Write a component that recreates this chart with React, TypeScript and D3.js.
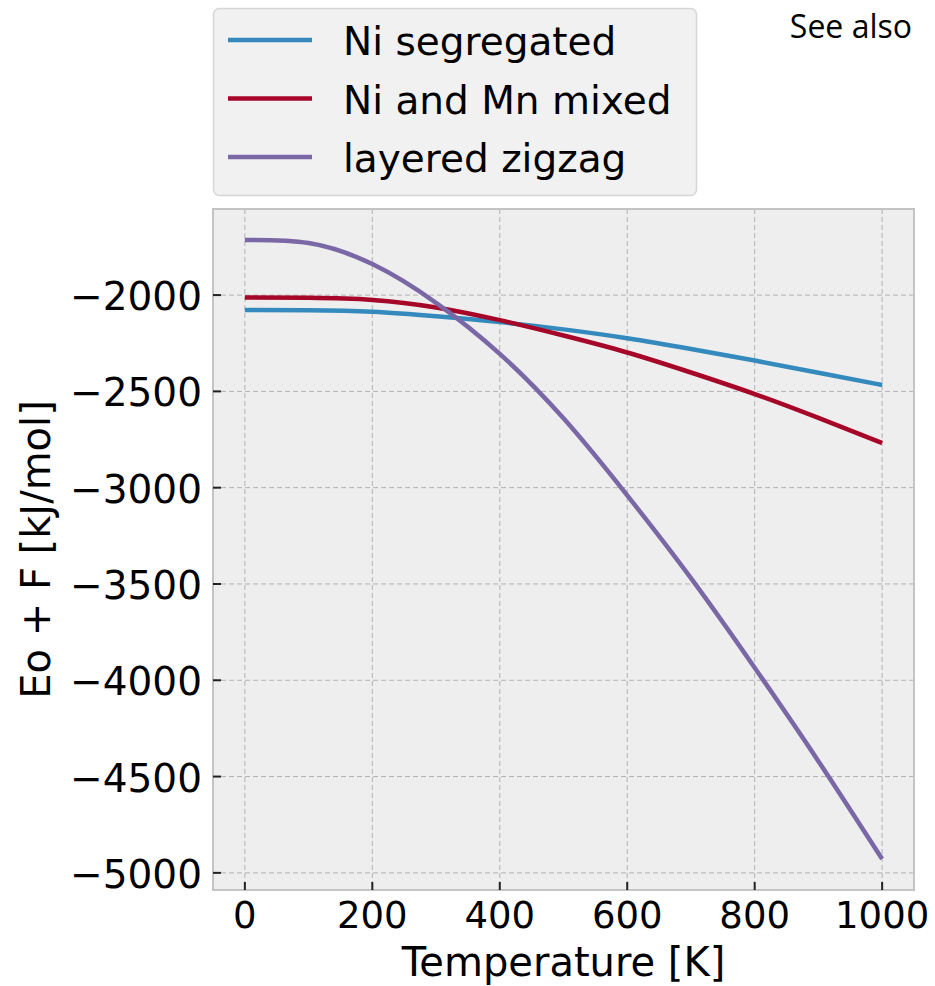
import React from "react";
import * as d3 from "d3";

const temperatures = [0, 100, 200, 300, 400, 500, 600, 700, 800, 900, 1000];
const niSegregated = [-2077, -2079, -2087, -2110, -2140, -2178, -2224, -2280, -2340, -2403, -2467];
const niMnMixed = [-2012, -2014, -2025, -2064, -2130, -2210, -2298, -2402, -2514, -2638, -2768];
const layeredZigzag = [-1714, -1730, -1839, -2040, -2305, -2640, -3040, -3470, -3935, -4420, -4928];

const seriesNames = ["Ni segregated", "Ni and Mn mixed", "layered zigzag"];
const seriesColors = ["#348ABD", "#A60628", "#7A68A6"];
const xTicks = [0, 200, 400, 600, 800, 1000];
const yTicks = [-2000, -2500, -3000, -3500, -4000, -4500, -5000];

const W = 935;
const H = 986;
const L = 213, R = 914, T = 209, B = 890;
const FONT = "DejaVu Sans, sans-serif";

export default function App() {
  const x = d3.scaleLinear().domain([-50, 1050]).range([L, R]);
  const y = d3.scaleLinear().domain([-1553, -5089]).range([T, B]);
  const series = [niSegregated, niMnMixed, layeredZigzag];
  const line = d3
    .line<number>()
    .x((_, i) => x(temperatures[i]))
    .y((d) => y(d))
    .curve(d3.curveNatural);

  return (
    <svg width={W} height={H} style={{ position: "absolute", left: 0, top: 0, background: "#fff" }}>
      <defs>
        <clipPath id="clip">
          <rect x={L} y={T} width={R - L} height={B - T} />
        </clipPath>
      </defs>
      {/* plot background */}
      <rect x={L} y={T} width={R - L} height={B - T} fill="#eeeeee" />
      {/* grid */}
      {xTicks.map((t) => (
        <line key={"gx" + t} x1={x(t)} x2={x(t)} y1={T} y2={B} stroke="#b2b2b2" strokeWidth={1} strokeDasharray="5,3" />
      ))}
      {yTicks.map((t) => (
        <line key={"gy" + t} x1={L} x2={R} y1={y(t)} y2={y(t)} stroke="#b2b2b2" strokeWidth={1} strokeDasharray="5,3" />
      ))}
      {/* lines */}
      <g clipPath="url(#clip)">
        {series.map((s, i) => (
          <path key={i} d={line(s) || ""} fill="none" stroke={seriesColors[i]} strokeWidth={4.5} />
        ))}
      </g>
      {/* frame */}
      <rect x={L} y={T} width={R - L} height={B - T} fill="none" stroke="#c4c4c4" strokeWidth={2} />
      {/* ticks */}
      {xTicks.map((t) => (
        <g key={"tx" + t}>
          <line x1={x(t)} x2={x(t)} y1={B} y2={B - 8} stroke="#222" strokeWidth={2} />
          <text x={x(t)} y={928} textAnchor="middle" fontFamily={FONT} fontSize={37} fill="#000">
            {t}
          </text>
        </g>
      ))}
      {yTicks.map((t) => (
        <g key={"ty" + t}>
          <line x1={L} x2={L + 8} y1={y(t)} y2={y(t)} stroke="#222" strokeWidth={2} />
          <text x={202} y={y(t) + 15} textAnchor="end" fontFamily={FONT} fontSize={39} fill="#000">
            {"\u2212" + Math.abs(t)}
          </text>
        </g>
      ))}
      {/* axis labels */}
      <text x={(L + R) / 2} y={976} textAnchor="middle" fontFamily={FONT} fontSize={40} fill="#000">
        Temperature [K]
      </text>
      <text
        transform={`translate(50, ${(T + B) / 2}) rotate(-90)`}
        textAnchor="middle"
        fontFamily={FONT}
        fontSize={40}
        fill="#000"
      >
        Eo + F [kJ/mol]
      </text>
      {/* legend */}
      <rect x={213.5} y={8.5} width={483} height={187} rx={6} fill="#f1f1f1" stroke="#d6d6d6" strokeWidth={1.5} />
      {seriesNames.map((n, i) => {
        const ly = 40 + i * 58.5;
        return (
          <g key={n}>
            <line x1={228} x2={312} y1={ly} y2={ly} stroke={seriesColors[i]} strokeWidth={4.5} />
            <text x={343} y={ly + 15} fontFamily={FONT} fontSize={39} fill="#000">
              {n}
            </text>
          </g>
        );
      })}
      {/* side text */}
      <text x={912} y={38} textAnchor="end" fontFamily="Open Sans, Liberation Sans, sans-serif" fontSize={32} fill="#000">
        See also
      </text>
    </svg>
  );
}
